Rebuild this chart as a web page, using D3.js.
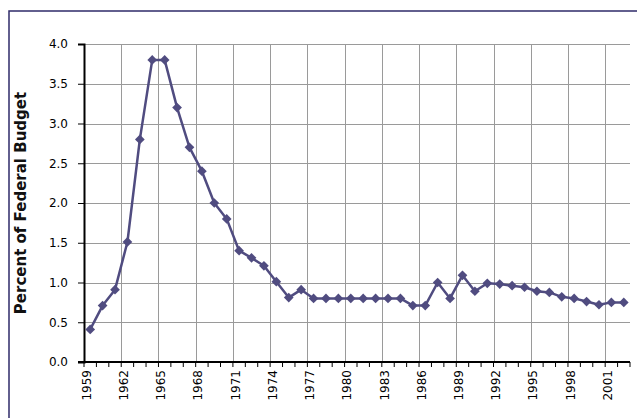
<!DOCTYPE html>
<html>
<head>
<meta charset="utf-8">
<script src="https://cdn.jsdelivr.net/npm/d3@7"></script>
<style>
  body { margin: 0; background: #fff; }
  svg { display: block; }
  .tick-label { font-family: "DejaVu Sans", sans-serif; font-size: 12px; fill: #000; }
  .axis-title { font-family: "DejaVu Sans", sans-serif; font-size: 15px; font-weight: bold; fill: #111; }
</style>
</head>
<body>
<div id="chart"></div>
<script>
// Years on the category axis
const years = d3.range(1959, 2003).map(String);

// Percent of federal budget, one value per year
const percent = [
  0.41, 0.71, 0.91, 1.51, 2.8, 3.8, 3.8, 3.2, 2.7, 2.4,
  2.0, 1.8, 1.4, 1.31, 1.21, 1.01, 0.81, 0.91, 0.8, 0.8,
  0.8, 0.8, 0.8, 0.8, 0.8, 0.8, 0.71, 0.71, 1.0, 0.8,
  1.09, 0.89, 0.99, 0.98, 0.96, 0.94, 0.89, 0.875, 0.82, 0.80,
  0.76, 0.72, 0.75, 0.75
];

// Y tick values
const yTicks = [0, 0.5, 1.0, 1.5, 2.0, 2.5, 3.0, 3.5, 4.0];

const width = 637, height = 418;
const margin = { top: 44, right: 7, bottom: 56, left: 84 };

const svg = d3.select("#chart").append("svg")
    .attr("width", width)
    .attr("height", height);

// outer frame (runs past the right and bottom edges)
svg.append("rect")
    .attr("x", 9)
    .attr("y", 11)
    .attr("width", width)
    .attr("height", height)
    .attr("fill", "none")
    .attr("stroke", "#2f2b6a")
    .attr("stroke-width", 1.5);

const xScale = d3.scaleBand()
    .domain(years)
    .range([margin.left, width - margin.right])
    .padding(0);

const yScale = d3.scaleLinear()
    .domain([0, 4])
    .range([height - margin.bottom, margin.top]);

const x0 = xScale.range()[0], x1 = xScale.range()[1];
const y0 = yScale(0), yTop = yScale(4);

// horizontal gridlines
svg.append("g")
    .selectAll("line")
    .data(yTicks.filter(d => d > 0))
    .join("line")
    .attr("x1", x0)
    .attr("x2", x1)
    .attr("y1", d => Math.round(yScale(d)) + 0.5)
    .attr("y2", d => Math.round(yScale(d)) + 0.5)
    .attr("stroke", "#9a9a9a")
    .attr("stroke-width", 1);

// vertical gridlines, every third category boundary
svg.append("g")
    .selectAll("line")
    .data(years.filter((d, i) => i > 0 && i % 3 === 0))
    .join("line")
    .attr("x1", d => Math.round(xScale(d)) + 0.5)
    .attr("x2", d => Math.round(xScale(d)) + 0.5)
    .attr("y1", yTop)
    .attr("y2", y0)
    .attr("stroke", "#9a9a9a")
    .attr("stroke-width", 1);

// y axis
const yAxis = d3.axisLeft(yScale)
    .tickValues(yTicks)
    .tickSize(6)
    .tickPadding(10)
    .tickFormat(d3.format(".1f"));

const gy = svg.append("g")
    .attr("transform", `translate(${x0},0)`)
    .call(yAxis);
gy.select(".domain").attr("stroke", "#000").attr("stroke-width", 2);
gy.selectAll(".tick line").attr("stroke", "#000").attr("stroke-width", 1);
gy.selectAll(".tick text").attr("class", "tick-label").attr("font-family", null).attr("font-size", null);

// x axis: tick at each category boundary
svg.append("line")
    .attr("x1", x0 - 6)
    .attr("x2", x1)
    .attr("y1", y0)
    .attr("y2", y0)
    .attr("stroke", "#000")
    .attr("stroke-width", 2);

svg.append("g")
    .selectAll("line")
    .data(years.concat(["end"]))
    .join("line")
    .attr("x1", (d, i) => x0 + i * xScale.bandwidth())
    .attr("x2", (d, i) => x0 + i * xScale.bandwidth())
    .attr("y1", y0)
    .attr("y2", y0 + 5)
    .attr("stroke", "#000")
    .attr("stroke-width", 1);

// x labels, every third year, rotated
svg.append("g")
    .selectAll("text")
    .data(years.filter((d, i) => i % 3 === 0))
    .join("text")
    .attr("class", "tick-label")
    .attr("text-anchor", "end")
    .attr("transform", d => `translate(${xScale(d) + xScale.bandwidth() / 2 + 0.5},${y0 + 8}) rotate(-90)`)
    .text(d => d);

// y axis title
svg.append("text")
    .attr("class", "axis-title")
    .attr("text-anchor", "middle")
    .attr("transform", `translate(${26},${(y0 + yTop) / 2}) rotate(-90)`)
    .text("Percent of Federal Budget");

// line
const line = d3.line()
    .x((d, i) => xScale(years[i]) + xScale.bandwidth() / 2)
    .y(d => yScale(d));

svg.append("path")
    .datum(percent)
    .attr("d", line)
    .attr("fill", "none")
    .attr("stroke", "#504c80")
    .attr("stroke-width", 2.5)
    .attr("stroke-linejoin", "round");

// diamond markers
const diamond = d3.symbol().type(d3.symbolDiamond2).size(60);
svg.append("g")
    .selectAll("path")
    .data(percent)
    .join("path")
    .attr("d", diamond)
    .attr("transform", (d, i) => `translate(${xScale(years[i]) + xScale.bandwidth() / 2},${yScale(d)})`)
    .attr("fill", "#504c80");
</script>
</body>
</html>
